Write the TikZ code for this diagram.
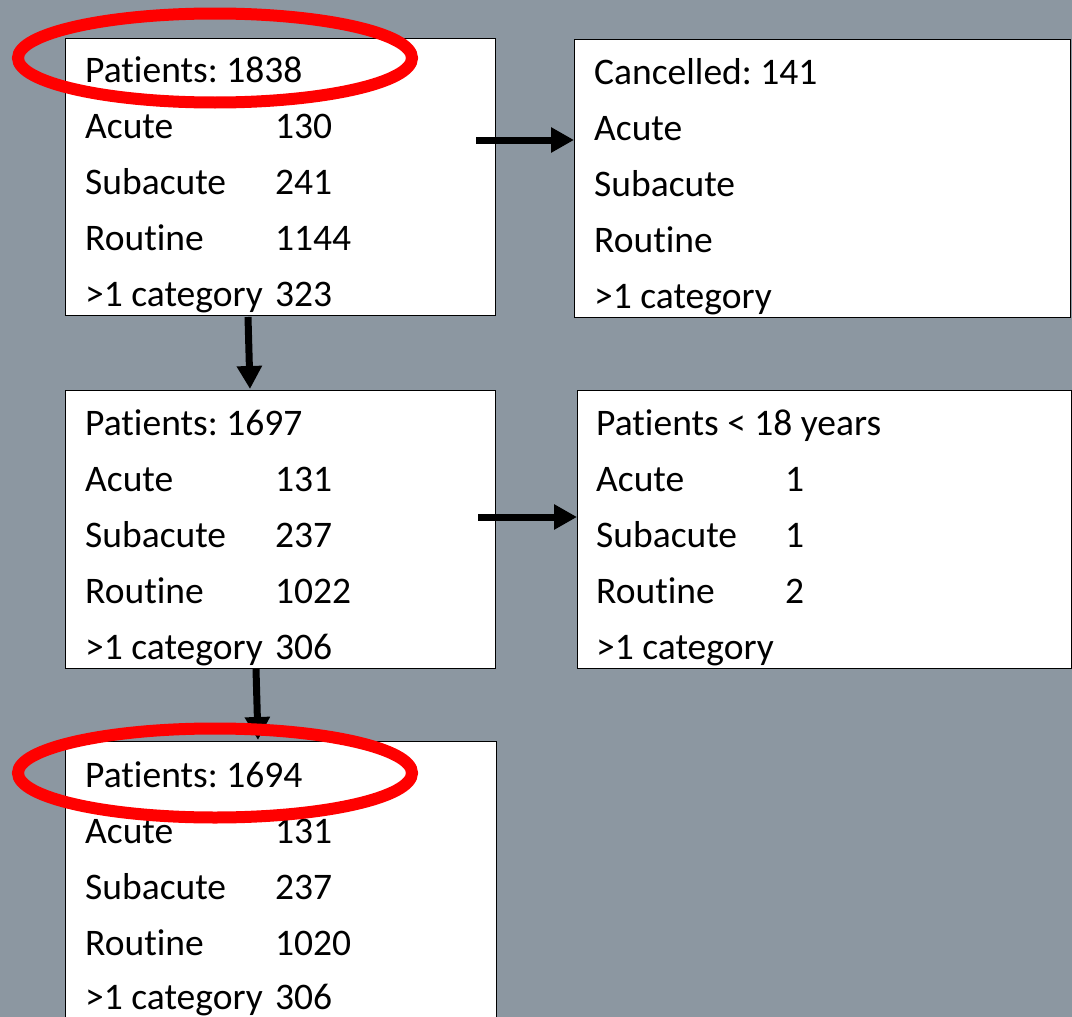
\documentclass[tikz,border=0pt]{standalone}
\usepackage{fontspec}
\setmainfont{Carlito}[Ligatures={NoCommon,NoContextual},RawFeature={-liga;-clig;-calt}]
\usetikzlibrary{arrows.meta}
\definecolor{bg}{RGB}{140,151,161}
\definecolor{hlred}{RGB}{255,0,0}
\frenchspacing
\begin{document}
\begin{tikzpicture}[x=1pt,y=-1pt,
 box/.style={draw=black, line width=1.2pt, fill=white, anchor=north west, inner sep=0pt},
 txt/.style={anchor=base west, inner sep=0pt, font=\fontsize{37.5}{44}\selectfont},
 arr/.style={line width=7pt, -{Triangle[length=23pt,width=24pt]}},
 hl/.style={draw=hlred, line width=12pt}]
\fill[bg] (0,0) rectangle (1072,1017);
\useasboundingbox (0,0) rectangle (1072,1017);
% boxes
\node[box, minimum width=430pt, minimum height=277pt] (b1) at (65,38) {};
\node[box, minimum width=496pt, minimum height=278pt] (b2) at (574,39) {};
\node[box, minimum width=430pt, minimum height=278pt] (b3) at (65,390) {};
\node[box, minimum width=494pt, minimum height=278pt] (b4) at (577,390) {};
\node[box, minimum width=431pt, minimum height=290pt] (b5) at (65,741) {};
% box 1
\node[txt] (b1h) at (85,82) {Patients: 1838};
\node[txt] (b1a) at (85,138) {Acute};
\node[txt] (b1an) at (275,138) {130};
\node[txt] (b1s) at (85,194) {Subacute};
\node[txt] (b1sn) at (275,194) {241};
\node[txt] (b1r) at (85,250) {Routine};
\node[txt] (b1rn) at (275,250) {1144};
\node[txt] (b1c) at (85,306) {>1 category};
\node[txt] (b1cn) at (275,306) {323};
% box 2
\node[txt] (b2h) at (594,84) {Cancelled: 141};
\node[txt] (b2a) at (594,140) {Acute};
\node[txt] (b2s) at (594,196) {Subacute};
\node[txt] (b2r) at (594,252) {Routine};
\node[txt] (b2c) at (594,308) {>1 category};
% box 3
\node[txt] (b3h) at (85,435) {Patients: 1697};
\node[txt] (b3a) at (85,491) {Acute};
\node[txt] (b3an) at (275,491) {131};
\node[txt] (b3s) at (85,547) {Subacute};
\node[txt] (b3sn) at (275,547) {237};
\node[txt] (b3r) at (85,603) {Routine};
\node[txt] (b3rn) at (275,603) {1022};
\node[txt] (b3c) at (85,659) {>1 category};
\node[txt] (b3cn) at (275,659) {306};
% box 4
\node[txt] (b4h) at (596,435) {Patients < 18 years};
\node[txt] (b4a) at (596,491) {Acute};
\node[txt] (b4an) at (785,491) {1};
\node[txt] (b4s) at (596,547) {Subacute};
\node[txt] (b4sn) at (785,547) {1};
\node[txt] (b4r) at (596,603) {Routine};
\node[txt] (b4rn) at (785,603) {2};
\node[txt] (b4c) at (596,659) {>1 category};
% box 5
\node[txt] (b5h) at (85,787) {Patients: 1694};
\node[txt] (b5a) at (85,843) {Acute};
\node[txt] (b5an) at (275,843) {131};
\node[txt] (b5s) at (85,899) {Subacute};
\node[txt] (b5sn) at (275,899) {237};
\node[txt] (b5r) at (85,955) {Routine};
\node[txt] (b5rn) at (275,955) {1020};
\node[txt] (b5c) at (85,1009) {>1 category};
\node[txt] (b5cn) at (275,1009) {306};
% arrows
\coordinate (a1s) at (476,140);
\coordinate (a2s) at (478,517);
\coordinate (a3s) at (248,317);
\coordinate (a3e) at (250,389);
\coordinate (a4s) at (256,669);
\coordinate (a4e) at (258,740);
\draw[arr] (a1s) -- (b2.west |- a1s);
\draw[arr] (a2s) -- (b4.west |- a2s);
\draw[arr] (a3s) -- (a3e);
\draw[arr] (a4s) -- (a4e);
% highlights
\draw[hl] (215,58) ellipse [x radius=197, y radius=44.5];
\draw[hl] (215,773) ellipse [x radius=197, y radius=44.5];
\end{tikzpicture}
\end{document}
